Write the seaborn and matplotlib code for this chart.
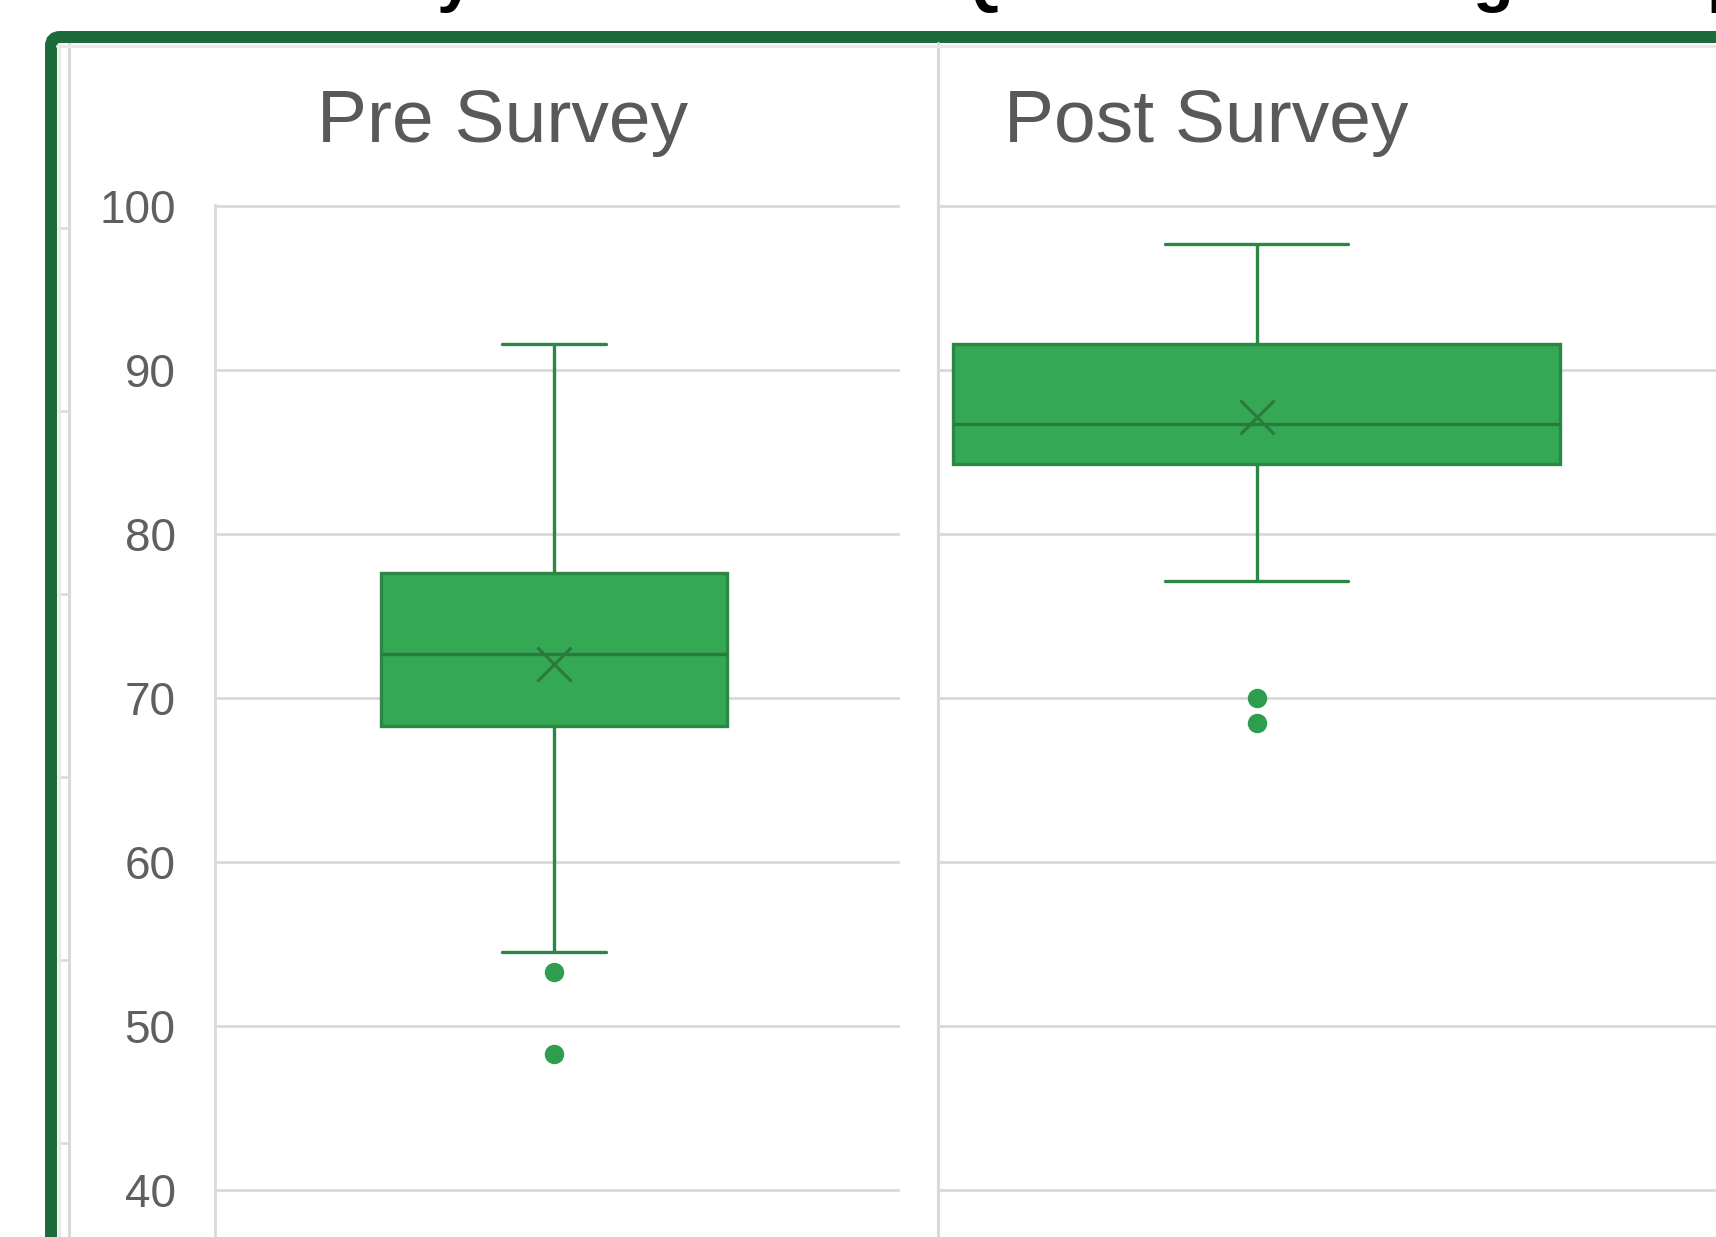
import numpy as np
import matplotlib
matplotlib.use("Agg")
import matplotlib.pyplot as plt
import seaborn as sns
from matplotlib.patches import FancyBboxPatch
from matplotlib.lines import Line2D
from matplotlib.transforms import IdentityTransform

# ---------------- data ----------------
panel_titles = ["Pre Survey", "Post Survey"]
pre_scores = [48.3, 53.3, 54.5, 62.0, 66.0, 68.3, 69.0, 70.0, 71.0, 72.0, 72.7,
              73.5, 74.5, 75.5, 76.5, 77.6, 80.0, 83.0, 86.0, 88.0, 91.6]
post_scores = [68.45, 70.0, 77.1, 81.0, 83.5, 84.24, 86.0, 86.3, 86.5, 86.6, 86.72,
               89.0, 90.0, 90.5, 91.0, 91.57, 94.0, 95.5, 96.5, 97.5, 97.66]
y_ticks = [40, 50, 60, 70, 80, 90, 100]
title_fragments = ["y", "Q", "g", "p"]

# ---------------- style ----------------
sns.set_theme(style="white")
plt.rcParams['font.family'] = ['Liberation Sans', 'DejaVu Sans']

W, H = 1716, 1237
fig = plt.figure(figsize=(W / 100, H / 100), dpi=100)
fig.patch.set_facecolor('white')


def fx(px):
    return px / W


def fy(py):
    return 1 - py / H


Y_TOP, Y_BOT = 100, 30
px_per_unit = 16.42
y100 = 204.5
ybot_px = y100 + (Y_TOP - Y_BOT) * px_per_unit


def panel(x0, x1):
    return fig.add_axes([fx(x0), fy(ybot_px), fx(x1) - fx(x0), (ybot_px - y100) / H])


ax_pre = panel(214.5, 900)
ax_post = panel(938, 1716)

GRID = '#D9D9D9'
box_kw = dict(color='#34A853', saturation=1, linecolor='#2A8844', linewidth=2.4,
              width=0.8, whis=1.6, fliersize=13, showmeans=True, capwidths=0.24,
              flierprops=dict(marker='o', markerfacecolor='#2E9E4E',
                              markeredgecolor='#2E9E4E'),
              meanprops=dict(marker='x', markeredgecolor='#2A7A3E',
                             markersize=25, markeredgewidth=2.2),
              medianprops=dict(color='#2A7A3E', linewidth=2.4))

sns.boxplot(y=pre_scores, ax=ax_pre, **box_kw)
sns.boxplot(y=post_scores, ax=ax_post, **box_kw)

for ax in (ax_pre, ax_post):
    ax.set_ylim(Y_BOT, Y_TOP + 0.08)
    ax.set_yticks(y_ticks)
    ax.yaxis.grid(True, color=GRID, linewidth=2)
    ax.xaxis.grid(False)
    ax.set_axisbelow(True)
    ax.set_xticks([])
    ax.set_xlabel('')
    ax.set_ylabel('')
    for s in ax.spines.values():
        s.set_visible(False)
    ax.set_facecolor('none')

ax_pre.set_xlim(-0.7872, 0.8023)
ax_post.set_xlim(-0.4198, 0.6056)

ax_pre.spines['left'].set_visible(True)
ax_pre.spines['left'].set_color(GRID)
ax_pre.spines['left'].set_linewidth(2)
ax_pre.tick_params(axis='y', length=0, pad=28, labelsize=33, labelcolor='#5F5F5F')
ax_post.tick_params(axis='y', length=0, labelleft=False)

# panel titles
fig.text(fx(317), fy(142), panel_titles[0], fontsize=54, color='#595959',
         ha='left', va='baseline')
fig.text(fx(1003.5), fy(142), panel_titles[1], fontsize=54, color='#595959',
         ha='left', va='baseline')

# cut-off main title (only descenders visible, as in the reference)
frag_x = [455, 952, 1493, 1707]
frag_ha = ['center', 'left', 'center', 'left']
for t, x, ha in zip(title_fragments, frag_x, frag_ha):
    fig.text(fx(x), 1.0005, t, fontsize=48, fontweight='bold', color='black',
             ha=ha, va='baseline')

# side axis with leftover ticks
side_bottom = 1400
ax_side = fig.add_axes([fx(68.5), fy(side_bottom), 0.0005, (side_bottom - 43) / H])
ax_side.set_ylim(side_bottom, 43)
ax_side.set_yticks(np.arange(228, 1237, 183))
ax_side.set_xticks([])
ax_side.tick_params(axis='y', left=True, direction='out', length=9, width=1.8,
                    color=GRID, labelleft=False)
for k, s in ax_side.spines.items():
    s.set_visible(k == 'left')
ax_side.spines['left'].set_color(GRID)
ax_side.spines['left'].set_linewidth(2.2)
ax_side.set_facecolor('none')

# separator between panels
fig.add_artist(Line2D([938, 938], [-10, H - 43], transform=IdentityTransform(),
                      color=GRID, linewidth=2.2))
# inner light shading along frame
fig.add_artist(Line2D([58.5, 58.5], [-10, H - 44], transform=IdentityTransform(),
                      color='#E8E8E8', linewidth=2.2))
fig.add_artist(Line2D([57, W + 10], [H - 45.5, H - 45.5], transform=IdentityTransform(),
                      color='#E8E8E8', linewidth=2.2))

# green outer frame
frame = FancyBboxPatch((51, -300), 3000, (H - 37) + 300,
                       boxstyle='round,pad=0,rounding_size=9',
                       transform=IdentityTransform(), fill=False,
                       edgecolor='#1C6B3B', linewidth=12 * 0.72)
fig.add_artist(frame)

fig.savefig('out.png', dpi=100, facecolor='white')
